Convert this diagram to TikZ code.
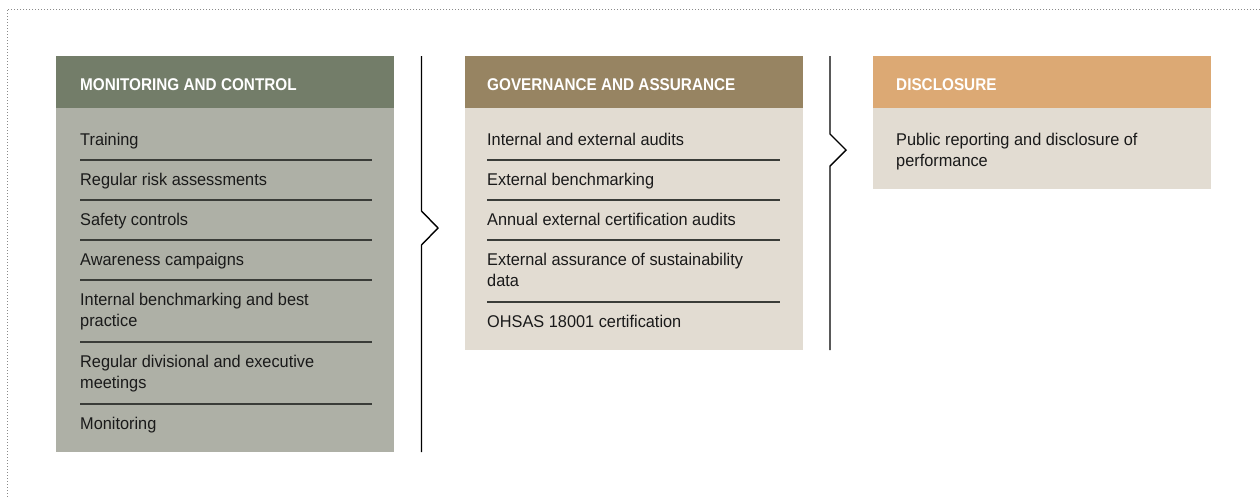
\documentclass[tikz,border=0pt]{standalone}
\usepackage{fontspec}
\setmainfont{Liberation Sans}
\newfontfamily\bodyfont[FakeStretch=0.96]{Liberation Sans}
\newfontfamily\headfont[FakeStretch=0.9]{Liberation Sans}
\definecolor{hA}{HTML}{737D69}
\definecolor{bA}{HTML}{AEB0A6}
\definecolor{hB}{HTML}{978462}
\definecolor{bB}{HTML}{E2DCD2}
\definecolor{hC}{HTML}{DCA974}
\definecolor{txt}{HTML}{1A1A1A}
\definecolor{rule}{HTML}{3A3C38}
\definecolor{dots}{HTML}{8A8A8A}
\tikzset{
  band/.style={anchor=north west, inner sep=0pt, outer sep=0pt, draw=none},
  headtxt/.style={anchor=base west, inner sep=0pt, text=white, font=\headfont\bfseries\fontsize{17}{21}\selectfont},
  item/.style={anchor=base west, inner sep=0pt, text=txt, font=\bodyfont\fontsize{17}{21}\selectfont},
  sep/.style={draw=rule, line width=1.2pt},
  divider/.style={draw=black, line width=1.4pt, line join=miter},
  frame/.style={draw=dots, line width=1pt, dotted}
}
\newcommand{\twolines}[2]{\begin{tabular}[t]{@{}l@{}}#1\\#2\end{tabular}}
\begin{document}
\begin{tikzpicture}[x=1pt,y=-1pt]
\useasboundingbox (0,0) rectangle (1260,498);
% dotted frame
\coordinate (fTR) at (1260,9);
\coordinate (fTL) at (7,9);
\coordinate (fBL) at (7,498);
\draw[frame] (fTR) -- (fTL) -- (fBL);

% ---------- Box A ----------
\node[band, fill=bA, minimum width=338pt, minimum height=396pt] (bodyA) at (56,56) {};
\node[band, fill=hA, minimum width=338pt, minimum height=52pt] (headA) at (56,56) {};
\node[headtxt] (tA) at (80,90) {MONITORING AND CONTROL};
\node[item] (a1) at (80,145) {Training};
\node[item] (a2) at (80,185) {Regular risk assessments};
\node[item] (a3) at (80,225) {Safety controls};
\node[item] (a4) at (80,265) {Awareness campaigns};
\node[item] (a5) at (80,305) {\twolines{Internal benchmarking and best}{practice}};
\node[item] (a6) at (80,367) {\twolines{Regular divisional and executive}{meetings}};
\node[item] (a7) at (80,429) {Monitoring};
\foreach \yy in {160,200,240,280,342,404} \draw[sep] (80,\yy) -- (372,\yy);

% ---------- Divider 1 ----------
\coordinate (d1t) at (421.5,56);
\coordinate (d1a) at (421.5,211);
\coordinate (d1m) at (438,228);
\coordinate (d1b) at (421.5,245);
\coordinate (d1e) at (421.5,452);
\draw[divider] (d1t) -- (d1a) -- (d1m) -- (d1b) -- (d1e);

% ---------- Box B ----------
\node[band, fill=bB, minimum width=338pt, minimum height=294pt] (bodyB) at (465,56) {};
\node[band, fill=hB, minimum width=338pt, minimum height=52pt] (headB) at (465,56) {};
\node[headtxt] (tB) at (487,90) {GOVERNANCE AND ASSURANCE};
\node[item] (b1) at (487,145) {Internal and external audits};
\node[item] (b2) at (487,185) {External benchmarking};
\node[item] (b3) at (487,225) {Annual external certification audits};
\node[item] (b4) at (487,265) {\twolines{External assurance of sustainability}{data}};
\node[item] (b5) at (487,327) {OHSAS 18001 certification};
\foreach \yy in {160,200,240,302} \draw[sep] (487,\yy) -- (780,\yy);

% ---------- Divider 2 ----------
\coordinate (d2t) at (830,56);
\coordinate (d2a) at (830,134);
\coordinate (d2m) at (846,150);
\coordinate (d2b) at (830,166);
\coordinate (d2e) at (830,350);
\draw[divider] (d2t) -- (d2a) -- (d2m) -- (d2b) -- (d2e);

% ---------- Box C ----------
\node[band, fill=bB, minimum width=338pt, minimum height=133pt] (bodyC) at (873,56) {};
\node[band, fill=hC, minimum width=338pt, minimum height=52pt] (headC) at (873,56) {};
\node[headtxt] (tC) at (896,90) {DISCLOSURE};
\node[item] (c1) at (896,145) {\twolines{Public reporting and disclosure of}{performance}};
\end{tikzpicture}
\end{document}
